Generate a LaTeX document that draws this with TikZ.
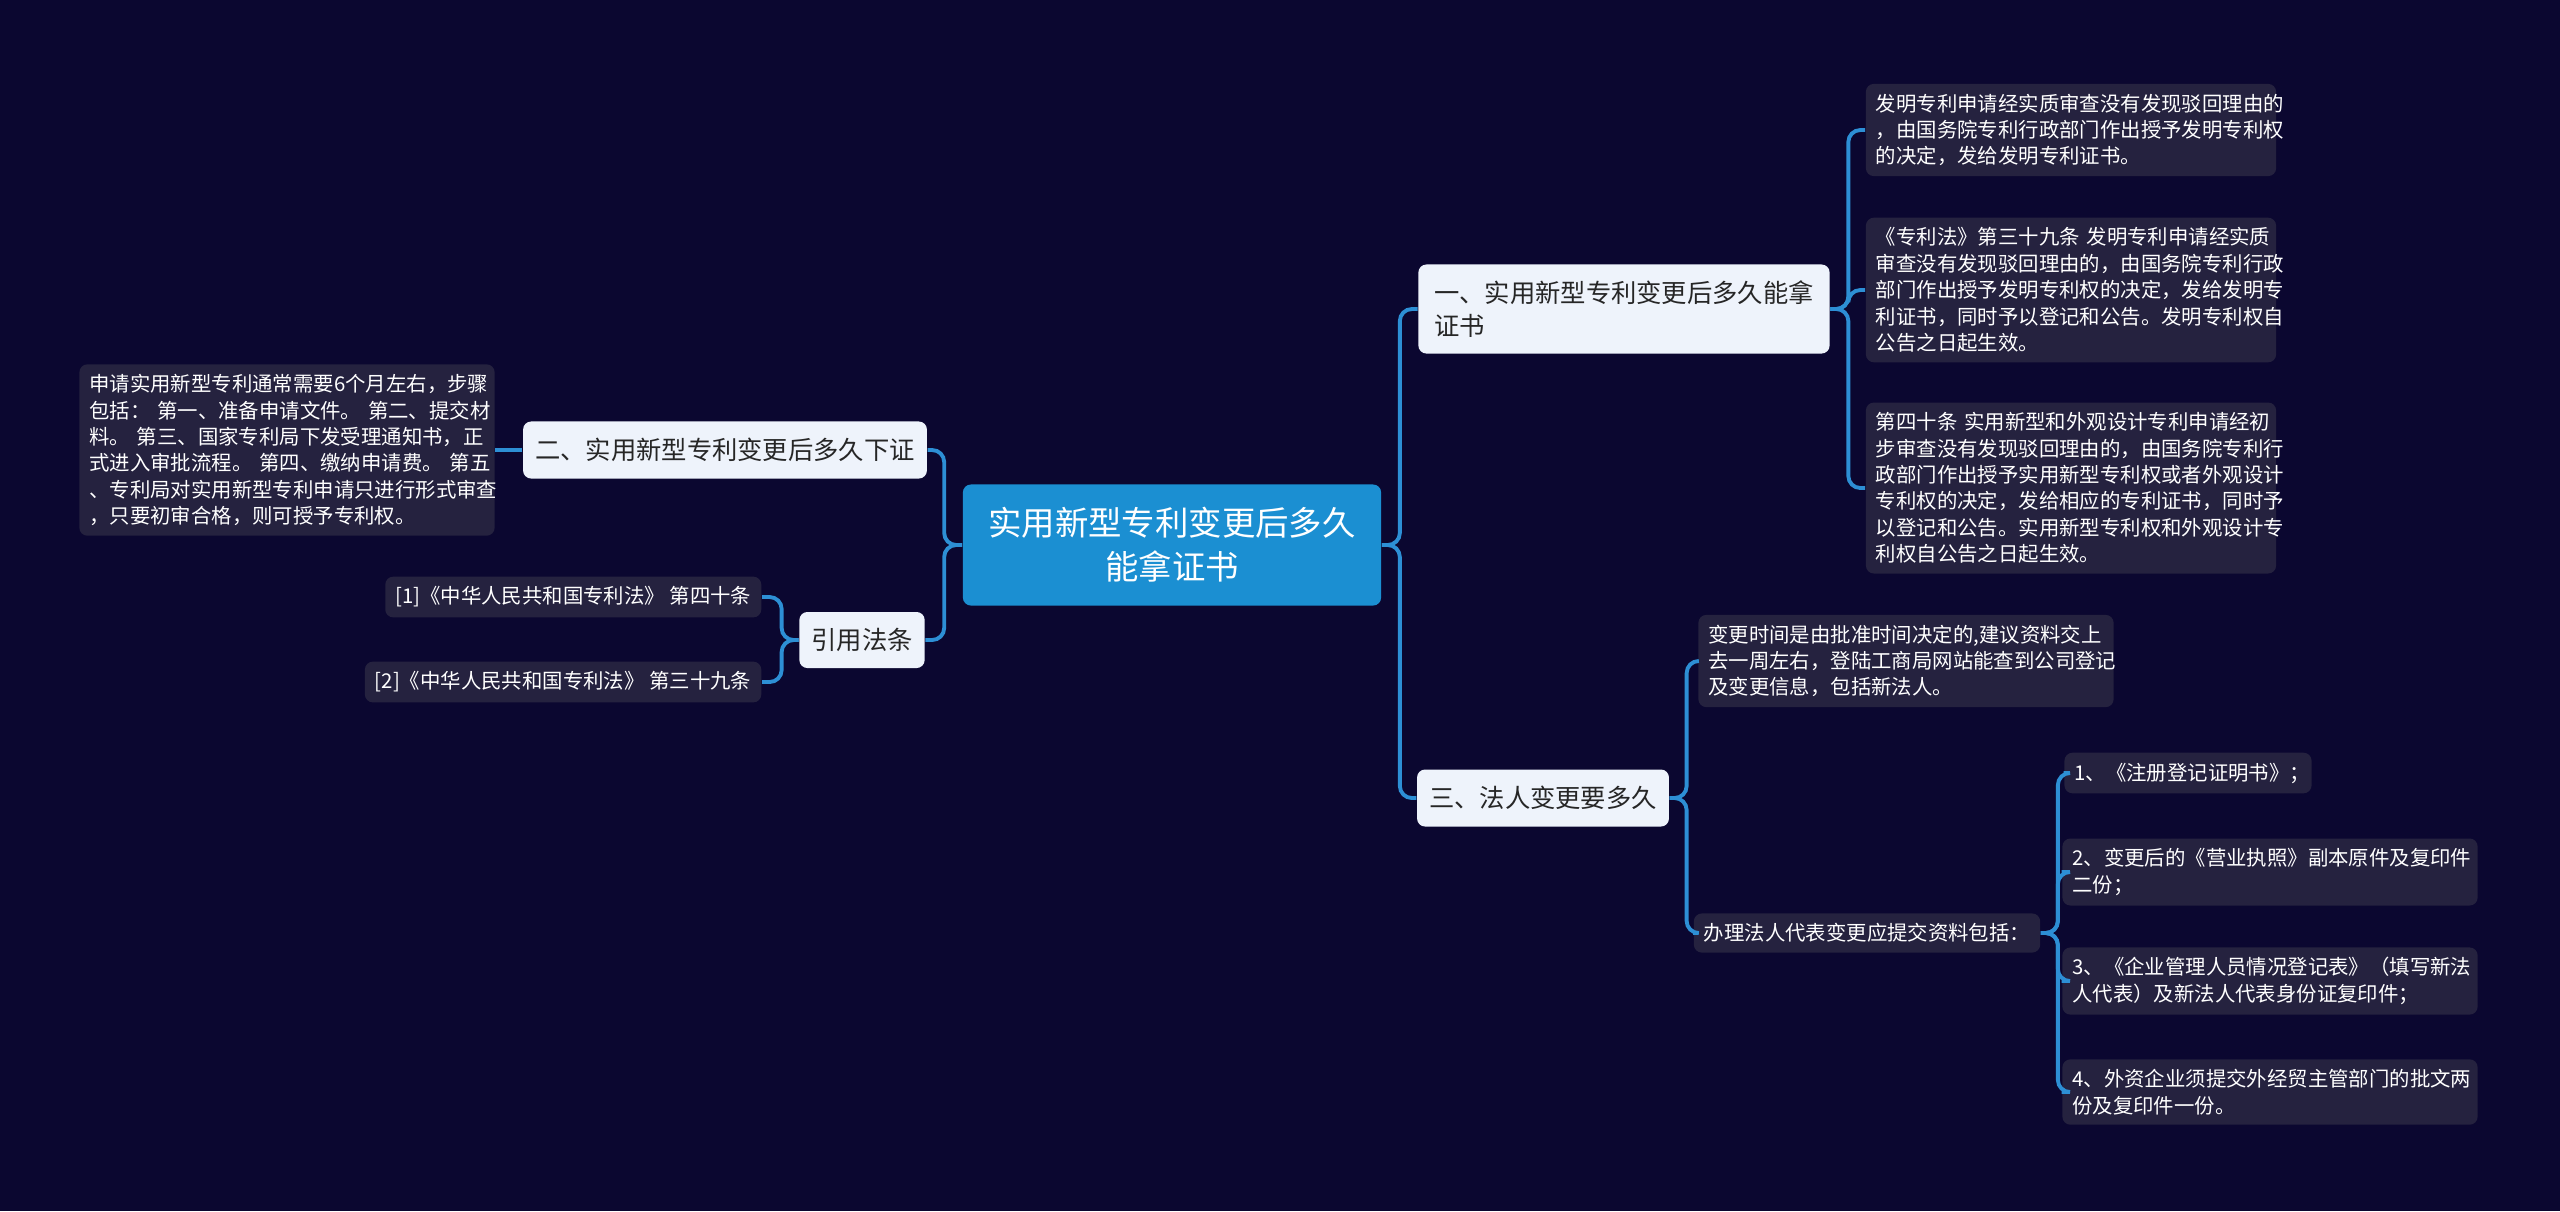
\documentclass[tikz,border=0pt]{standalone}
\usepackage{fontspec}
\setmainfont{Noto Sans CJK SC}
\usetikzlibrary{positioning}
\definecolor{bg}{HTML}{0B0730}
\definecolor{leaf}{HTML}{25223F}
\definecolor{link}{HTML}{2D8FD5}
\definecolor{hub}{HTML}{1B8FD2}
\definecolor{topic}{HTML}{EEF3FB}
\begin{document}
\begin{tikzpicture}[x=0.01cm,y=-0.01cm,
  root/.style={fill=hub, rounded corners=.08cm, text=white, font=\fontsize{9.5}{12.5}\selectfont, align=center, minimum width=4.18cm, minimum height=1.21cm},
  topicbox/.style={fill=topic, rounded corners=.08cm, text=black!85, font=\fontsize{7.2}{9.5}\selectfont, align=left, inner xsep=.12cm},
  leafbox/.style={fill=leaf, rounded corners=.08cm, text=white!92, font=\fontsize{5.8}{7.5}\selectfont, align=left, inner sep=.1cm},
  link/.style={draw=link, line width=1.1pt, rounded corners=.12cm}]
\fill[bg] (0,0) rectangle (2560,1211);
\useasboundingbox (0,0) rectangle (2560,1211);

% root
\node[root] (root) at (1172,545) {实用新型专利变更后多久\\能拿证书};

% right side
\node[topicbox, minimum width=4.11cm, minimum height=.89cm] (t1) at (1624,309) {一、实用新型专利变更后多久能拿\\证书};
\node[topicbox, minimum width=2.48cm, minimum height=.57cm] (t3) at (1543,798) {三、法人变更要多久};

\node[leafbox, text width=3.9cm] (a1) at (2071,130) {发明专利申请经实质审查没有发现驳回理由的\\，由国务院专利行政部门作出授予发明专利权\\的决定，发给发明专利证书。};
\node[leafbox, text width=3.9cm] (a2) at (2071,290) {《专利法》第三十九条~发明专利申请经实质\\审查没有发现驳回理由的，由国务院专利行政\\部门作出授予发明专利权的决定，发给发明专\\利证书，同时予以登记和公告。发明专利权自\\公告之日起生效。};
\node[leafbox, text width=3.9cm] (a3) at (2071,488) {第四十条~实用新型和外观设计专利申请经初\\步审查没有发现驳回理由的，由国务院专利行\\政部门作出授予实用新型专利权或者外观设计\\专利权的决定，发给相应的专利证书，同时予\\以登记和公告。实用新型专利权和外观设计专\\利权自公告之日起生效。};

\node[leafbox, text width=3.95cm] (c1) at (1906,661) {变更时间是由批准时间决定的,建议资料交上\\去一周左右，登陆工商局网站能查到公司登记\\及变更信息，包括新法人。};
\node[leafbox] (c2) at (1867,933) {办理法人代表变更应提交资料包括：};

\node[leafbox, text width=2.27cm] (d1) at (2188,773) {1、《注册登记证明书》；};
\node[leafbox, text width=3.95cm] (d2) at (2270,872) {2、变更后的《营业执照》副本原件及复印件\\二份；};
\node[leafbox, text width=3.95cm] (d3) at (2270,981) {3、《企业管理人员情况登记表》（填写新法\\人代表）及新法人代表身份证复印件；};
\node[leafbox, text width=3.95cm] (d4) at (2270,1092) {4、外资企业须提交外经贸主管部门的批文两\\份及复印件一份。};

% left side
\node[topicbox, minimum width=3.97cm, minimum height=.57cm] (t2) at (725,450) {二、实用新型专利变更后多久下证};
\node[topicbox, minimum width=1.24cm, minimum height=.56cm, align=center] (t4) at (862,640) {引用法条};

\node[leafbox, text width=3.95cm] (b1) at (287,450) {申请实用新型专利通常需要6个月左右，步骤\\包括：~第一、准备申请文件。~第二、提交材\\料。~第三、国家专利局下发受理通知书，正\\式进入审批流程。~第四、缴纳申请费。~第五\\、专利局对实用新型专利申请只进行形式审查\\，只要初审合格，则可授予专利权。};
\node[leafbox, anchor=east] (r1) at (762,597) {[1]《中华人民共和国专利法》~第四十条};
\node[leafbox, anchor=east] (r2) at (762,682) {[2]《中华人民共和国专利法》~第三十九条};

% connectors
\foreach \c in {t1,t3} \draw[link] (root.east) -- ++(18,0) |- (\c.west);
\foreach \c in {t2,t4} \draw[link] (root.west) -- ++(-18,0) |- (\c.east);
\foreach \c in {a1,a2,a3} \draw[link] (t1.east) -- ++(18,0) |- (\c.west);
\foreach \c in {c1,c2} \draw[link] (t3.east) -- ++(17,0) |- (\c.west);
\foreach \c in {d1,d2,d3,d4} \draw[link] (c2.east) -- ++(17,0) |- (\c.west);
\draw[link] (t2.west) -- (b1.east);
\foreach \c in {r1,r2} \draw[link] (t4.west) -- ++(-17,0) |- (\c.east);
\end{tikzpicture}
\end{document}
